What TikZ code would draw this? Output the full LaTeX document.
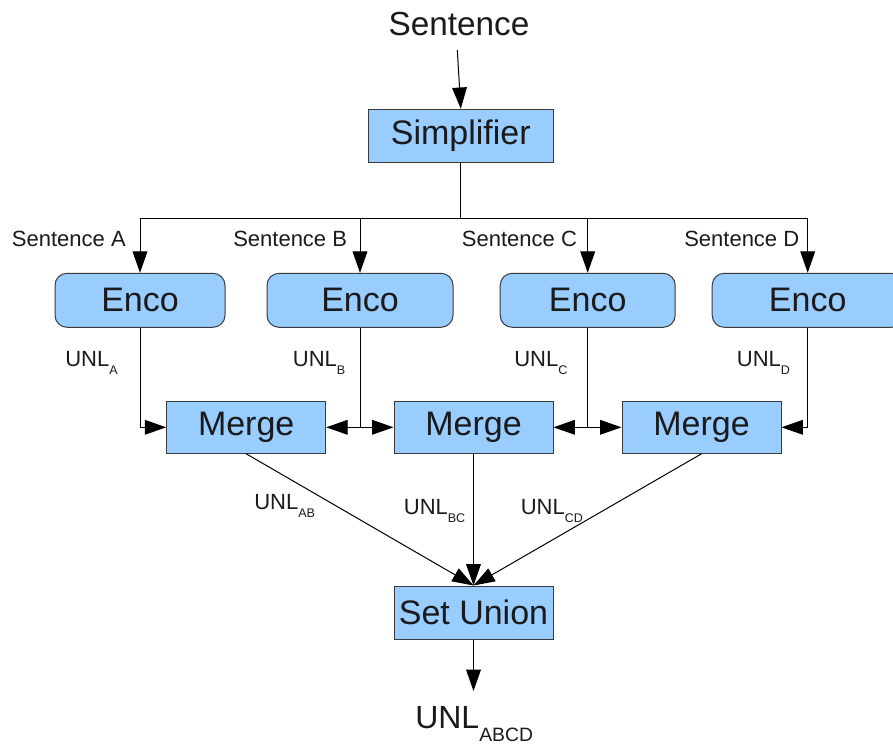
\documentclass[tikz,border=0pt]{standalone}
\usepackage{fontspec}
\setmainfont{Liberation Sans}
\usetikzlibrary{arrows.meta}
\definecolor{boxfill}{HTML}{99CCFF}
\definecolor{boxline}{HTML}{3A3A3A}
\definecolor{txt}{HTML}{1A1A1A}
\newcommand\unlsub[2]{\raisebox{-#2}{\fontsize{9.4}{10}\selectfont #1}}
\begin{document}
\begin{tikzpicture}[x=0.75pt,y=-0.75pt,
  box/.style={draw=boxline,fill=boxfill,line width=0.75pt,inner sep=0pt,
    text=txt,font=\fontsize{25.5}{28}\selectfont},
  rbox/.style={box,rounded corners=9pt},
  lbl/.style={inner sep=0pt,anchor=base west,text=txt,font=\fontsize{16.5}{19}\selectfont},
  wire/.style={line width=0.75pt},
  arr/.style={wire,-{Triangle[length=16pt,width=11pt]}}]
\useasboundingbox (0,0) rectangle (893,744);

% boxes
\node[box,minimum width=138.75pt,minimum height=40pt] (simp) at (460.8,136) {Simplifier};
\node[rbox,minimum width=127.5pt,minimum height=40.5pt] (e1) at (140,300.3) {Enco};
\node[rbox,minimum width=139.5pt,minimum height=40.5pt] (e2) at (360,300.3) {Enco};
\node[rbox,minimum width=131.25pt,minimum height=40.5pt] (e3) at (587.7,300.3) {Enco};
\node[rbox,minimum width=143.25pt,minimum height=40.5pt] (e4) at (807.7,300.3) {Enco};
\node[box,minimum width=119.25pt,minimum height=39pt] (m1) at (246.2,427.3) {Merge};
\node[box,minimum width=119.25pt,minimum height=39pt] (m2) at (473.5,427.3) {Merge};
\node[box,minimum width=119.25pt,minimum height=39pt] (m3) at (701.5,427.3) {Merge};
\node[box,minimum width=119.25pt,minimum height=39.75pt] (su) at (473.5,612.5) {Set Union};

% texts
\node[lbl,font=\fontsize{25}{28}\selectfont] (sent) at (388.3,35.7) {Sentence};
\node[lbl] (sa) at (11.7,246) {Sentence A};
\node[lbl] (sb) at (233,246) {Sentence B};
\node[lbl] (sc) at (461.7,246) {Sentence C};
\node[lbl] (sd) at (684,246) {Sentence D};
\node[lbl] (ua) at (65,366.7) {UNL\unlsub{A}{5.5pt}};
\node[lbl] (ub) at (292.7,366.7) {UNL\unlsub{B}{5.5pt}};
\node[lbl] (uc) at (514,366.7) {UNL\unlsub{C}{5.5pt}};
\node[lbl] (ud) at (736.7,366.7) {UNL\unlsub{D}{5.5pt}};
\node[lbl] (uab) at (254,509) {UNL\unlsub{AB}{6.5pt}};
\node[lbl] (ubc) at (403.6,514) {UNL\unlsub{BC}{6.5pt}};
\node[lbl] (ucd) at (520.5,514) {UNL\unlsub{CD}{6.5pt}};
\node[lbl,font=\fontsize{24}{27}\selectfont] (uabcd) at (415,728)
  {UNL\raisebox{-10pt}{\fontsize{14.5}{16}\selectfont ABCD}};

% connectors
\coordinate (s0) at (457.3,50);
\coordinate (bar) at (0,218.3);
\coordinate (out) at (473.5,691);
\draw[arr] (s0) -- (simp.north);
\draw[wire] (simp.south) -- (simp.south |- bar);
\draw[wire] (e1.north |- bar) -- (e4.north |- bar);
\foreach \e in {e1,e2,e3,e4}
  \draw[arr] (\e.north |- bar) -- (\e.north);
\draw[arr] (e1.south) |- (m1.west);
\draw[arr] (e2.south) |- (m1.east);
\draw[arr] (e2.south) |- (m2.west);
\draw[arr] (e3.south) |- (m2.east);
\draw[arr] (e3.south) |- (m3.west);
\draw[arr] (e4.south) |- (m3.east);
\draw[arr] (m1.south) -- (su.north);
\draw[arr] (m2.south) -- (su.north);
\draw[arr] (m3.south) -- (su.north);
\draw[arr] (su.south) -- (out);
\end{tikzpicture}
\end{document}
